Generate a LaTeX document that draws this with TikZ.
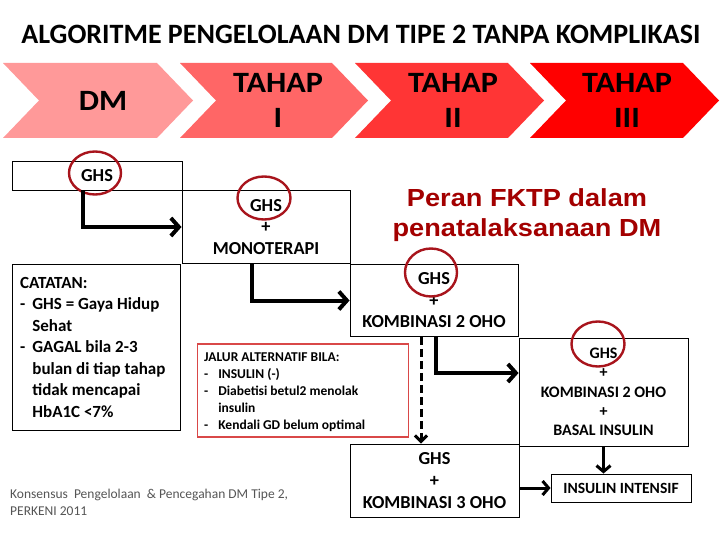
\documentclass[tikz,border=0pt]{standalone}
\usepackage{fontspec}
\setmainfont{Carlito}
\newfontfamily\arialf[FakeStretch=1.1]{Liberation Sans}
\newfontfamily\widef[FakeStretch=1.09]{Carlito}
\usetikzlibrary{arrows.meta,shapes.geometric,calc}
\definecolor{chA}{HTML}{FF9999}
\definecolor{chB}{HTML}{FF6666}
\definecolor{chC}{HTML}{FF3535}
\definecolor{chD}{HTML}{FF0000}
\definecolor{ringred}{HTML}{A8141C}
\definecolor{fktp}{HTML}{A30000}
\definecolor{altred}{HTML}{D94848}
\definecolor{footgray}{HTML}{555555}
\begin{document}
\begin{tikzpicture}[x=1pt,y=-1pt,
  box/.style={draw=black, line width=0.9pt, inner sep=0pt, align=center,
    font=\fontsize{18.3}{21.5}\selectfont\bfseries},
  ring/.style={draw=ringred, line width=2.4pt, ellipse, inner sep=0pt},
  chtext/.style={align=center, font=\widef\fontsize{29.5}{35}\selectfont\bfseries},
  arr/.style={line width=4pt, -{Straight Barb[length=8pt,width=18pt]}},
  arrsmall/.style={line width=3pt, -{Straight Barb[length=6pt,width=14pt]}},
  darr/.style={line width=3pt, dash pattern=on 8pt off 4pt, -{Straight Barb[length=6pt,width=12pt]}}
]
\useasboundingbox (0,0) rectangle (720,540);
\fill[white] (0,0) rectangle (720,540);

% title
\node[font=\fontsize{28}{33}\selectfont\bfseries, anchor=base] (title) at (361,43.5)
  {ALGORITME PENGELOLAAN DM TIPE 2 TANPA KOMPLIKASI};

% chevrons
\fill[chA] (3,63) -- (157,63) -- (193,100.5) -- (157,138) -- (3,138) -- (39,100.5) -- cycle;
\fill[chB] (180,63) -- (332,63) -- (368,100.5) -- (332,138) -- (180,138) -- (216,100.5) -- cycle;
\fill[chC] (355,63) -- (508,63) -- (544,100.5) -- (508,138) -- (355,138) -- (391,100.5) -- cycle;
\fill[chD] (530,63) -- (683,63) -- (719,100.5) -- (683,138) -- (530,138) -- (566,100.5) -- cycle;
\node[chtext] (t0) at (103,100.5) {DM};
\node[chtext] (t1) at (278,100) {TAHAP\\I};
\node[chtext] (t2) at (453,100) {TAHAP\\II};
\node[chtext] (t3) at (627,100) {TAHAP\\III};

% boxes
\node[box, minimum width=170pt, minimum height=29pt] (a) at (97,175.5) {GHS};
\node[box, minimum width=168pt, minimum height=73pt] (b) at (266,227) {GHS\\+\\MONOTERAPI};
\node[box, minimum width=168pt, minimum height=72pt] (c) at (434,300.5) {GHS\\+\\KOMBINASI 2 OHO};
\node[box, minimum width=169pt, minimum height=108pt, font=\fontsize{16}{19.4}\selectfont\bfseries] (d) at (603.5,392) {GHS\\+\\KOMBINASI 2 OHO\\+\\BASAL INSULIN};
\node[box, minimum width=169pt, minimum height=73pt, font=\fontsize{18.3}{22}\selectfont\bfseries] (e) at (434.5,480.5) {GHS\\+\\KOMBINASI 3 OHO};
\node[box, minimum width=140pt, minimum height=28pt, font=\fontsize{15.6}{19}\selectfont\bfseries] (f) at (621,488) {INSULIN INTENSIF};

% note boxes
\node[draw=black, line width=0.9pt, minimum width=168pt, minimum height=166pt, inner sep=0pt] (cat) at (96,347) {};
\node[anchor=north west, inner sep=0pt, font=\fontsize{17}{21.5}\selectfont\bfseries] (catt) at (20,273)
 {\begin{tabular}{@{}l@{\hspace{7pt}}l@{}}
  \multicolumn{2}{@{}l}{CATATAN:}\\
  - & GHS = Gaya Hidup\\
    & Sehat\\
  - & GAGAL bila 2-3\\
    & bulan di tiap tahap\\
    & tidak mencapai\\
    & HbA1C <7\%
 \end{tabular}};

\node[draw=altred, line width=1.1pt, minimum width=211pt, minimum height=93pt, inner sep=0pt] (alt) at (303,390.5) {};
\node[anchor=north west, inner sep=0pt, font=\fontsize{13.5}{17}\selectfont\bfseries] (altt) at (204,349.5)
 {\begin{tabular}{@{}l@{\hspace{10pt}}l@{}}
  \multicolumn{2}{@{}l}{JALUR ALTERNATIF BILA:}\\
  - & INSULIN (-)\\
  - & Diabetisi betul2 menolak\\
    & insulin\\
  - & Kendali GD belum optimal
 \end{tabular}};

% red text
\node[align=center, text=fktp, font=\arialf\fontsize{24.7}{30}\selectfont\bfseries] (fk) at (527,215.5)
  {Peran FKTP dalam\\penatalaksanaan DM};

% rings
\node[ring, minimum width=52pt, minimum height=43pt] (r1) at (95,173) {};
\node[ring, minimum width=53pt, minimum height=43pt] (r2) at (264,198) {};
\node[ring, minimum width=52pt, minimum height=48pt] (r3) at (431,272.5) {};
\node[ring, minimum width=53pt, minimum height=45pt] (r4) at (598,344) {};

% connectors
\draw[arr] ([xshift=-14pt]a.south) |- (b.west);
\draw[arr] ([xshift=-14pt]b.south) |- (c.west);
\draw[arr] ([xshift=2pt]c.south) |- ([yshift=19pt]d.west);
\coordinate (ce) at ([xshift=-13pt]c.south);
\draw[darr] (ce) -- (ce |- e.north);
\draw[arrsmall] (d.south) -- (d.south |- f.north);
\draw[arrsmall] (e.east |- f.west) -- (f.west);

% footer
\node[anchor=north west, align=left, inner sep=0pt, text=footgray, font=\fontsize{13.5}{17}\selectfont] (src) at (10,489)
  {Konsensus\ \ Pengelolaan\ \ \& Pencegahan DM Tipe 2,\\PERKENI 2011};
\end{tikzpicture}
\end{document}
